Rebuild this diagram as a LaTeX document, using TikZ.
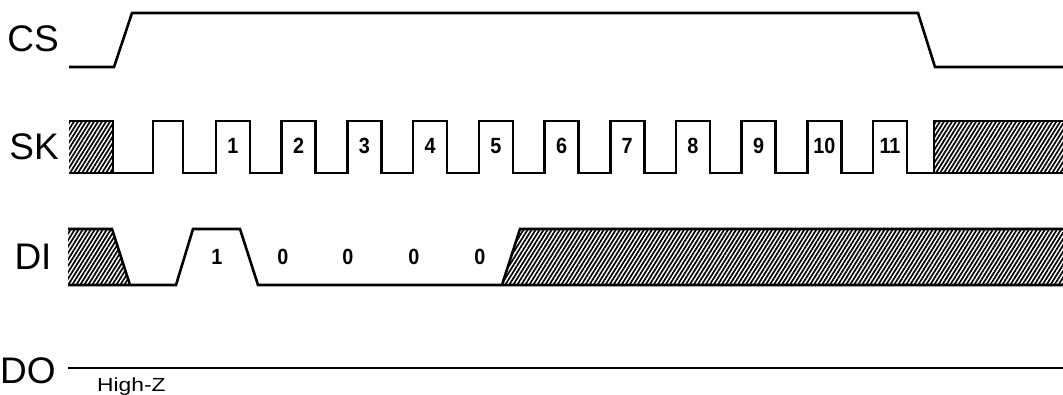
\documentclass[tikz,border=0pt]{standalone}
\usepackage{fontspec}
\setmainfont{Liberation Sans}
\newfontfamily\numfont[FakeStretch=0.9]{Liberation Sans}
\newfontfamily\widefont[FakeStretch=1.2]{Liberation Sans}
\usetikzlibrary{patterns.meta}

\tikzset{
  wave/.style={line width=2.6pt, line join=miter},
  hatch/.style={pattern={Lines[angle=58,distance=3.4pt,line width=1.7pt]}},
  signame/.style={font=\fontsize{37}{40}\selectfont, inner sep=0pt},
  bitnum/.style={font=\numfont\bfseries\fontsize{22}{24}\selectfont, inner sep=0pt},
}

\begin{document}
\begin{tikzpicture}[x=1pt, y=-1pt]
    \useasboundingbox (0,0) rectangle (1063,394);

    % Signal names
    \node[signame] (cs) at (33,39) {CS};
    \node[signame] (sk) at (34,147) {SK};
    \node[signame] (di) at (33,257) {DI};
    \node[signame] (do) at (28,371) {DO};

    % CS
    \draw[wave] (69,67) -- (114,67) -- (132,13) -- (918,13) -- (935,67) -- (1063,67);

    % SK
    \fill[hatch] (69,121) rectangle (113,173);
    \fill[hatch] (934,121) rectangle (1063,173);
    \draw[wave] (69,121) -- (113,121) -- (113,173);
    \draw[wave] (69,173) -- (153,173) -- (153,121) -- (183,121) -- (183,173)
        foreach \k in {0,...,10} {
          -- ({216+65.7*\k},173) -- ({216+65.7*\k},121)
          -- ({250+65.7*\k},121) -- ({250+65.7*\k},173) }
        -- (934,173) -- (934,121) -- (1063,121);
    \draw[wave] (934,173) -- (1063,173);
    \foreach \k in {1,...,11}
        \node[bitnum] (clk\k) at ({233+65.7*(\k-1)},146) {\k};

    % DI
    \fill[hatch] (68,229) -- (112,229) -- (130,285) -- (68,285) -- cycle;
    \fill[hatch] (502,285) -- (520,229) -- (1063,229) -- (1063,285) -- cycle;
    \draw[wave] (68,229) -- (112,229) -- (130,285);
    \draw[wave] (68,285) -- (176,285) -- (193,229) -- (240,229) -- (258,285)
        -- (1063,285);
    \draw[wave] (502,285) -- (520,229) -- (1063,229);
    \node[bitnum] (bit1) at (217,257) {1};
    \node[bitnum] (bit2) at (283,257) {0};
    \node[bitnum] (bit3) at (348,257) {0};
    \node[bitnum] (bit4) at (414,257) {0};
    \node[bitnum] (bit5) at (480,257) {0};

    % DO
    \draw[wave] (68,368) -- (1063,368);
    \node[font=\widefont\fontsize{19}{20}\selectfont, inner sep=0pt, anchor=base west]
        (hiz) at (97,391) {High-Z};
\end{tikzpicture}
\end{document}
